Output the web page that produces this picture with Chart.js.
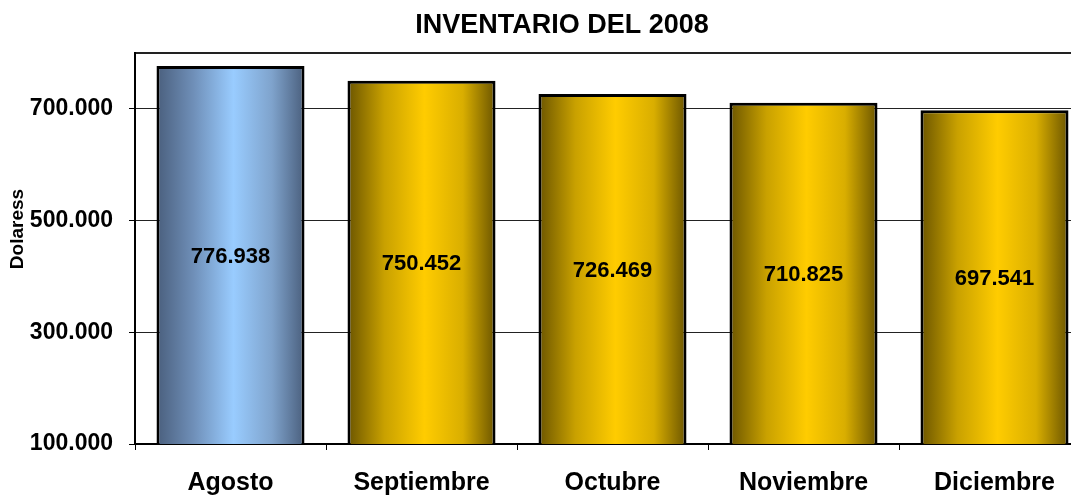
<!DOCTYPE html>
<html><head><meta charset="utf-8">
<script src="https://cdn.jsdelivr.net/npm/chart.js@4"></script>
<style>
html,body{margin:0;padding:0;overflow:hidden;background:#fff;width:1071px;height:499px}
#wrap{width:1124px;height:499px}
</style>
</head><body><div id="wrap"><canvas id="c" width="1124" height="499"></canvas></div>
<script>
const categories = ['Agosto', 'Septiembre', 'Octubre', 'Noviembre', 'Diciembre'];
const inventario = [776938, 750452, 726469, 710825, 697541];
const yTicks = [100000, 300000, 500000, 700000];
const yMin = 100000;
const yMax = 800000;
const chartTitle = 'INVENTARIO DEL 2008';
const yTitle = 'Dolaress';

const FONT = '"Liberation Sans", Arial, sans-serif';
const BAR_PCT = 0.775;

function fmt(v) {
  return String(Math.round(v)).replace(/\B(?=(\d{3})+(?!\d))/g, '.');
}

function barGradient(ctx) {
  const chart = ctx.chart;
  const sx = chart.scales && chart.scales.x;
  if (!chart.chartArea || !sx) return '#ffcc00';
  const cx = sx.getPixelForValue(ctx.dataIndex);
  const w = (sx.width / categories.length) * BAR_PCT;
  const g = chart.ctx.createLinearGradient(cx - w / 2, 0, cx + w / 2, 0);
  if (ctx.dataIndex === 0) {
    g.addColorStop(0, '#4a5f7d');
    g.addColorStop(0.25, '#6f8fb8');
    g.addColorStop(0.52, '#99ccff');
    g.addColorStop(0.78, '#7fa3cc');
    g.addColorStop(1, '#4a5f7d');
  } else {
    g.addColorStop(0, '#6b5500');
    g.addColorStop(0.25, '#c9a100');
    g.addColorStop(0.52, '#ffcc00');
    g.addColorStop(0.78, '#d9ae00');
    g.addColorStop(1, '#6b5500');
  }
  return g;
}

const textPlugin = {
  id: 'textPlugin',
  afterDatasetsDraw(chart) {
    const c = chart.ctx;
    const meta = chart.getDatasetMeta(0);
    const bottom = chart.chartArea.bottom;
    c.save();
    c.fillStyle = '#000';
    c.textAlign = 'center';
    c.textBaseline = 'middle';
    c.font = 'bold 22px ' + FONT;
    meta.data.forEach((bar, i) => {
      const y = (bar.y + Math.min(bar.base, bottom)) / 2 + 2;
      c.fillText(fmt(inventario[i]), bar.x, y);
    });
    c.restore();
  },
  afterDraw(chart) {
    const c = chart.ctx;
    c.save();
    c.fillStyle = '#000';
    c.textAlign = 'center';
    c.textBaseline = 'middle';
    c.font = 'bold 27px ' + FONT;
    c.fillText(chartTitle, 562, 26);
    c.translate(18, 229);
    c.rotate(-Math.PI / 2);
    c.font = 'bold 19px ' + FONT;
    c.fillText(yTitle, 0, 0);
    c.restore();
  }
};

new Chart(document.getElementById('c'), {
  type: 'bar',
  data: {
    labels: categories,
    datasets: [{
      label: 'Inventario',
      data: inventario,
      backgroundColor: barGradient,
      borderColor: '#000',
      borderWidth: 3,
      borderSkipped: false,
      barPercentage: BAR_PCT,
      categoryPercentage: 1
    }]
  },
  options: {
    responsive: false,
    animation: false,
    layout: { padding: { top: 53, right: 34, left: 0, bottom: 0 } },
    plugins: {
      legend: { display: false },
      title: { display: false },
      tooltip: { enabled: false }
    },
    scales: {
      x: {
        afterFit: s => { s.height = 55; },
        grid: { offset: true, drawOnChartArea: false, tickLength: 6, color: '#000', lineWidth: 1 },
        border: { color: '#000', width: 2 },
        ticks: { font: { family: FONT, size: 25, weight: 'bold' }, color: '#000', padding: 18 }
      },
      y: {
        min: yMin,
        max: yMax,
        afterBuildTicks: s => { s.ticks = yTicks.concat([yMax]).map(v => ({ value: v })); },
        afterFit: s => { s.width = 135; },
        ticks: {
          callback: v => (v === yMax ? '' : fmt(v)),
          font: { family: FONT, size: 23, weight: 'bold' },
          color: '#000',
          padding: 16
        },
        grid: {
          color: '#222',
          lineWidth: c => (c.tick && c.tick.value === yMax ? 2 : 1),
          tickLength: 6,
          tickColor: c => (c.tick && c.tick.value === yMax ? 'rgba(0,0,0,0)' : '#000')
        },
        border: { color: '#000', width: 2 }
      }
    }
  },
  plugins: [textPlugin]
});
</script>
</body></html>
